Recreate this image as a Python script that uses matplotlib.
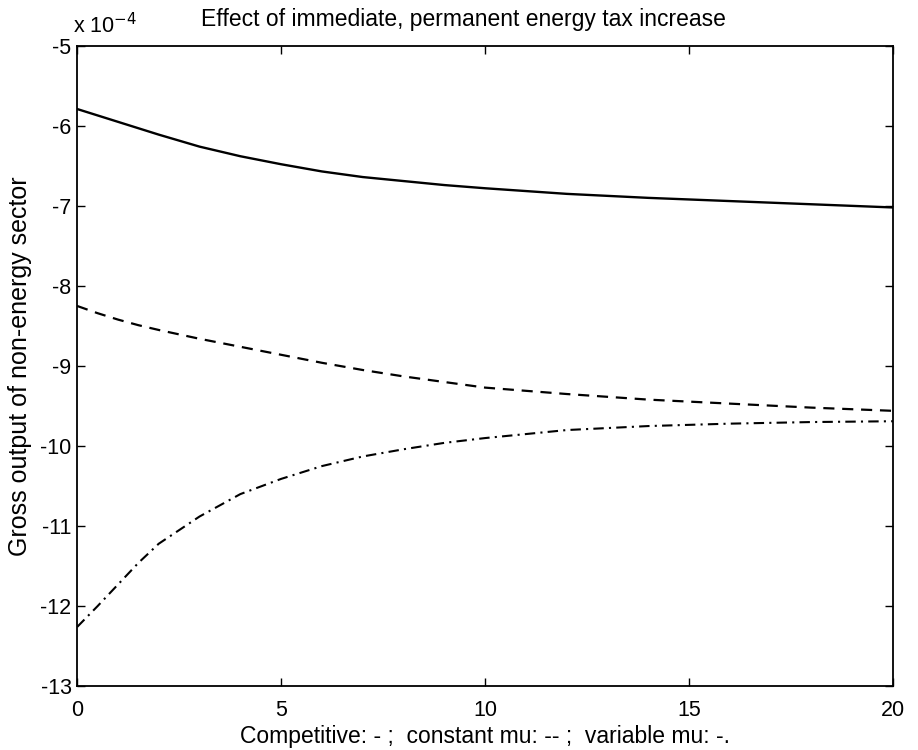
import matplotlib
matplotlib.use("Agg")
import matplotlib.pyplot as plt

plt.rcParams["font.family"] = ["Liberation Sans", "DejaVu Sans"]

# values in units of 1e-4
x = [0, 0.5, 1, 1.5, 2, 3, 4, 5, 6, 7, 8, 9, 10, 12, 14, 16, 18, 20]
competitive = [-5.79, -5.87, -5.95, -6.03, -6.11, -6.26, -6.38, -6.48, -6.57, -6.64,
               -6.69, -6.74, -6.78, -6.85, -6.90, -6.94, -6.98, -7.02]
constant_mu = [-8.25, -8.34, -8.42, -8.49, -8.55, -8.66, -8.76, -8.86, -8.96, -9.05,
               -9.13, -9.20, -9.27, -9.35, -9.42, -9.47, -9.52, -9.56]
variable_mu = [-12.26, -12.00, -11.73, -11.46, -11.22, -10.88, -10.60, -10.41, -10.25, -10.13,
               -10.04, -9.96, -9.90, -9.80, -9.75, -9.72, -9.70, -9.69]
yticks = [-13, -12, -11, -10, -9, -8, -7, -6, -5]
xticks = [0, 5, 10, 15, 20]

fig = plt.figure(figsize=(9.18, 7.5), dpi=100)
ax = fig.add_axes([0.084, 0.085, 0.889, 0.854])
ax.plot(x, competitive, "k-", lw=1.7)
ax.plot(x, constant_mu, "k", lw=1.6, dashes=(5, 3.5))
ax.plot(x, variable_mu, "k", lw=1.5, dashes=(5, 2.5, 1, 2.5))
ax.set_xlim(0, 20); ax.set_ylim(-13, -5)
ax.set_xticks(xticks); ax.set_yticks(yticks)
ax.set_yticklabels([str(v) for v in yticks])
ax.tick_params(direction="in", top=True, right=True, length=6, width=1, labelsize=15.5)
ax.tick_params(axis="x", pad=10)
ax.tick_params(axis="y", pad=4)
for s in ax.spines.values():
    s.set_linewidth(1.3)
ax.set_title("Effect of immediate, permanent energy tax increase", fontsize=16.5, pad=14, x=0.473)
ax.set_xlabel("Competitive: - ;  constant mu: -- ;  variable mu: -.", fontsize=16.5, labelpad=3)
ax.set_ylabel("Gross output of non-energy sector", fontsize=18, labelpad=6)
ax.text(-0.005, 1.012, r"x 10$^{-4}$", transform=ax.transAxes, fontsize=15.5, va="bottom", ha="left")

fig.savefig("out.png", dpi=100)
